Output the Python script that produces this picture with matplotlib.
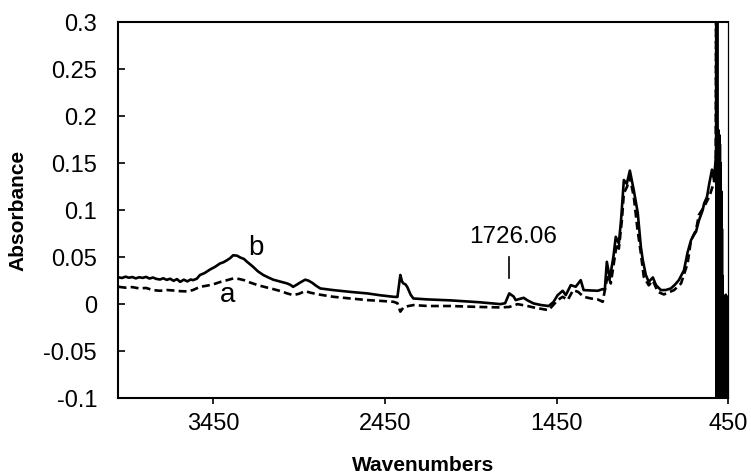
import matplotlib.pyplot as plt

plt.rcParams['font.family'] = ['Liberation Sans', 'DejaVu Sans']

# spectrum b (solid line): (wavenumber, absorbance)
b_points = [
    (4000, 0.0285), (3980, 0.0278), (3960, 0.0292), (3940, 0.0281), (3920, 0.0288),
    (3900, 0.0274), (3880, 0.0286), (3860, 0.0279), (3840, 0.0290), (3820, 0.0272),
    (3800, 0.0283), (3780, 0.0268), (3759, 0.0262), (3740, 0.0275), (3720, 0.0258),
    (3700, 0.0270), (3680, 0.0248), (3660, 0.0266), (3642, 0.0237), (3620, 0.0260),
    (3600, 0.0242), (3580, 0.0262), (3567, 0.0255), (3545, 0.0270), (3526, 0.0310),
    (3500, 0.0330), (3467, 0.0369), (3440, 0.0395), (3409, 0.0433), (3390, 0.0445),
    (3368, 0.0468), (3350, 0.0490), (3333, 0.0520), (3310, 0.0515), (3293, 0.0497),
    (3270, 0.0480), (3252, 0.0450), (3217, 0.0397), (3190, 0.0350), (3158, 0.0310),
    (3130, 0.0285), (3100, 0.0260), (3060, 0.0240), (3019, 0.0220), (3000, 0.0205),
    (2984, 0.0184), (2960, 0.0210), (2943, 0.0230), (2914, 0.0260), (2895, 0.0250),
    (2873, 0.0227), (2850, 0.0195), (2826, 0.0167), (2750, 0.0149), (2650, 0.0130),
    (2552, 0.0114), (2480, 0.0095), (2400, 0.0078), (2377, 0.0076), (2368, 0.0200),
    (2360, 0.0310), (2350, 0.0240), (2342, 0.0220), (2330, 0.0210), (2319, 0.0180),
    (2300, 0.0100), (2284, 0.0060), (2200, 0.0050), (2068, 0.0040), (1900, 0.0020),
    (1777, 0.0000), (1750, 0.0010), (1726, 0.0114), (1700, 0.0080), (1689, 0.0043),
    (1665, 0.0055), (1642, 0.0067), (1620, 0.0040), (1584, 0.0007), (1540, -0.0010),
    (1497, -0.0020), (1470, 0.0020), (1444, 0.0096), (1415, 0.0142), (1397, 0.0096),
    (1368, 0.0202), (1339, 0.0185), (1310, 0.0255), (1293, 0.0149), (1250, 0.0145),
    (1211, 0.0142), (1182, 0.0160), (1170, 0.0150), (1158, 0.0450), (1141, 0.0273),
    (1120, 0.0500), (1106, 0.0716), (1088, 0.0645), (1075, 0.0900), (1059, 0.1320),
    (1042, 0.1280), (1024, 0.1420), (1001, 0.1210), (978, 0.0970), (960, 0.0610),
    (949, 0.0470), (931, 0.0310), (914, 0.0237), (890, 0.0284), (872, 0.0202),
    (843, 0.0149), (815, 0.0150), (785, 0.0167), (760, 0.0210), (739, 0.0255),
    (709, 0.0360), (688, 0.0550), (668, 0.0680), (650, 0.0740), (639, 0.0770),
    (622, 0.0890), (600, 0.1000), (592, 0.1070), (575, 0.1140), (563, 0.1270),
    (546, 0.1430), (534, 0.1320), (526, 0.1500), (522, 0.1600), (520, 0.3500),
    (518, -0.1500), (516, 0.3500), (514, -0.1500), (512, 0.1850), (510, -0.1500),
    (508, 0.1850), (506, -0.1500), (504, 0.1800), (502, -0.1500), (500, 0.1700),
    (498, -0.1500), (496, 0.1500), (494, -0.1500), (492, 0.1200), (490, -0.1500),
    (488, 0.0800), (486, -0.1500), (484, 0.0300), (482, -0.1500), (470, -0.1500),
    (466, 0.0100), (462, -0.1500), (456, -0.1500), (454, 0.0080), (452, -0.1500),
    (450, -0.1500),
]

# spectrum a (dashed line)
a_points = [
    (4000, 0.0184), (3960, 0.0175), (3920, 0.0181), (3880, 0.0167), (3840, 0.0172),
    (3800, 0.0149), (3759, 0.0142), (3720, 0.0150), (3680, 0.0145), (3642, 0.0138),
    (3600, 0.0135), (3567, 0.0150), (3526, 0.0184), (3490, 0.0195), (3450, 0.0210),
    (3409, 0.0235), (3368, 0.0255), (3333, 0.0273), (3300, 0.0268), (3270, 0.0255),
    (3235, 0.0230), (3190, 0.0202), (3140, 0.0178), (3100, 0.0160), (3050, 0.0135),
    (3019, 0.0114), (2984, 0.0096), (2950, 0.0110), (2914, 0.0138), (2880, 0.0120),
    (2826, 0.0100), (2750, 0.0078), (2650, 0.0060), (2552, 0.0043), (2480, 0.0035),
    (2400, 0.0025), (2377, 0.0010), (2360, -0.0080), (2340, -0.0030), (2284, -0.0010),
    (2200, -0.0020), (2068, -0.0020), (1900, -0.0030), (1777, -0.0035), (1726, -0.0030),
    (1677, 0.0000), (1620, -0.0020), (1584, -0.0035), (1540, -0.0050), (1497, -0.0064),
    (1444, 0.0043), (1415, 0.0078), (1386, 0.0043), (1354, 0.0149), (1325, 0.0130),
    (1293, 0.0078), (1250, 0.0060), (1211, 0.0050), (1182, 0.0025), (1153, 0.0310),
    (1135, 0.0220), (1100, 0.0645), (1088, 0.0590), (1070, 0.0900), (1059, 0.1180),
    (1040, 0.1250), (1024, 0.1350), (1001, 0.1140), (980, 0.0800), (960, 0.0540),
    (943, 0.0290), (914, 0.0200), (890, 0.0250), (861, 0.0130), (826, 0.0103),
    (767, 0.0149), (726, 0.0220), (688, 0.0433), (668, 0.0680), (639, 0.0787),
    (622, 0.0950), (592, 0.1035), (560, 0.1150), (534, 0.1300), (526, 0.1450),
    (524, 0.1550), (522, 0.3500), (519, -0.1500), (515, 0.1700), (511, -0.1500),
    (507, 0.1200), (503, -0.1500), (499, 0.0800), (495, -0.1500), (490, 0.0300),
    (486, -0.1500), (470, -0.1500), (464, -0.0150), (458, -0.1500), (452, 0.0050),
    (450, -0.1500),
]

b_wn, b_abs = zip(*b_points)
a_wn, a_abs = zip(*a_points)

x_ticks = [3450, 2450, 1450, 450]
y_ticks = [-0.1, -0.05, 0, 0.05, 0.1, 0.15, 0.2, 0.25, 0.3]
y_labels = ['-0.1', '-0.05', '0', '0.05', '0.1', '0.15', '0.2', '0.25', '0.3']

fig = plt.figure(figsize=(7.51, 4.74), dpi=100)
ax = fig.add_axes([0.157, 0.160, 0.813, 0.7935])

ax.plot(a_wn, a_abs, color='black', linewidth=1.9, linestyle=(0, (3, 1.6)))
ax.plot(b_wn, b_abs, color='black', linewidth=1.9)

ax.set_xlim(4004, 450)
ax.set_ylim(-0.1, 0.3)
ax.set_xticks(x_ticks)
ax.set_yticks(y_ticks)
ax.set_yticklabels(y_labels)

ax.tick_params(axis='y', direction='in', length=5, width=1.2, pad=15, labelsize=17)
ax.tick_params(axis='x', direction='out', length=4, width=1.2, pad=7, labelsize=17)

for side in ['left', 'bottom', 'top']:
    ax.spines[side].set_linewidth(1.5)
ax.spines['right'].set_linewidth(0.9)

ax.set_xlabel('Wavenumbers', fontsize=15, fontweight='bold')
ax.set_ylabel('Absorbance', fontsize=15, fontweight='bold')
ax.xaxis.set_label_coords(0.5, -0.153)
ax.yaxis.set_label_coords(-0.148, 0.5)

ax.text(3199, 0.0596, 'b', fontsize=20, ha='center', va='center')
ax.text(3368, 0.0096, 'a', fontsize=20, ha='center', va='center')

# marker line for the 1726 cm-1 band
ax.plot([1726.06, 1726.06], [0.0277, 0.05], color='black', linewidth=1.2)
ax.text(1705, 0.0715, '1726.06', fontsize=17.5, ha='center', va='center')

fig.savefig('out.png', dpi=100)
